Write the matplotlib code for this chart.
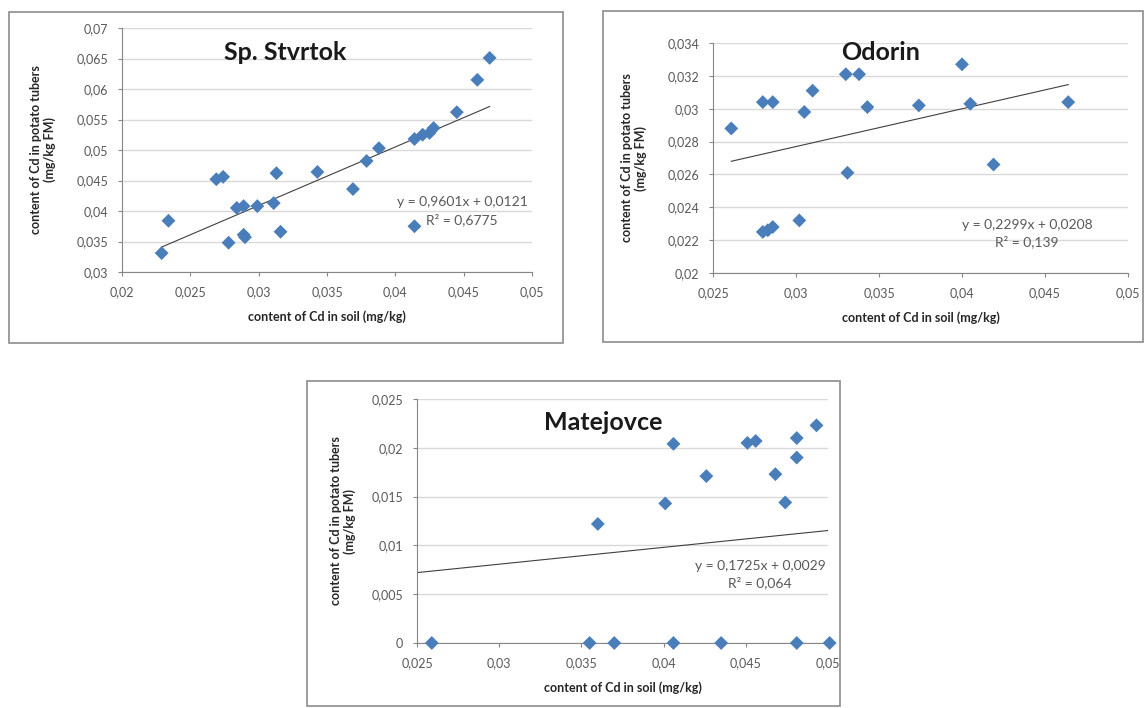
import matplotlib
matplotlib.use('Agg')
from matplotlib import pyplot as plt
from matplotlib.patches import Rectangle
from matplotlib.ticker import FuncFormatter, MultipleLocator

plt.rcParams['font.family'] = ['Lato', 'DejaVu Sans']

# Sp. Stvrtok
stvrtok_x = [0.0229, 0.0234, 0.0269, 0.0274, 0.0278, 0.0284, 0.0289, 0.0289, 0.0290, 0.0299,
             0.0311, 0.0313, 0.0316, 0.0343, 0.0369, 0.0379, 0.0388, 0.0414, 0.0414, 0.0420,
             0.0425, 0.0428, 0.0445, 0.0460, 0.0469]
stvrtok_y = [0.0331, 0.0384, 0.0452, 0.0456, 0.0348, 0.0405, 0.0408, 0.0361, 0.0357, 0.0408,
             0.0413, 0.0462, 0.0366, 0.0464, 0.0436, 0.0482, 0.0503, 0.0375, 0.0518, 0.0525,
             0.0528, 0.0536, 0.0562, 0.0615, 0.0651]

# Odorin
odorin_x = [0.0261, 0.0280, 0.0286, 0.0305, 0.0310, 0.0330, 0.0338, 0.0343, 0.0331, 0.0374,
            0.0400, 0.0405, 0.0464, 0.0419, 0.0280, 0.0283, 0.0286, 0.0302]
odorin_y = [0.0288, 0.0304, 0.0304, 0.0298, 0.0311, 0.0321, 0.0321, 0.0301, 0.0261, 0.0302,
            0.0327, 0.0303, 0.0304, 0.0266, 0.0225, 0.0226, 0.0228, 0.0232]

# Matejovce
matejovce_x = [0.0259, 0.0355, 0.0370, 0.0406, 0.0435, 0.0481, 0.0501,
               0.0360, 0.0401, 0.0406, 0.0426, 0.0451, 0.0456, 0.0468, 0.0474, 0.0481,
               0.0481, 0.0493]
matejovce_y = [0.0, 0.0, 0.0, 0.0, 0.0, 0.0, 0.0,
               0.0122, 0.0143, 0.0204, 0.0171, 0.0205, 0.0207, 0.0173, 0.0144, 0.0210,
               0.0190, 0.0223]

titles = ['Sp. Stvrtok', 'Odorin', 'Matejovce']
slopes = [0.9601, 0.2299, 0.1725]
intercepts = [0.0121, 0.0208, 0.0029]
r2_labels = ['0,6775', '0,139', '0,064']
trend_ranges = [(0.0229, 0.0469), (0.0261, 0.0464), (0.025, 0.0502)]
x_limits = [(0.02, 0.05), (0.025, 0.05), (0.025, 0.05)]
y_limits = [(0.03, 0.07), (0.02, 0.034), (0.0, 0.025)]
y_steps = [0.005, 0.002, 0.005]

xlabel = 'content of Cd in soil (mg/kg)'
ylabel = 'content of Cd in potato tubers\n(mg/kg FM)'

blue = '#4a7ebb'
grid_col = '#d9d9d9'
axis_col = '#868686'
text_col = '#595959'


def comma_fmt(v, pos):
    if abs(v) < 1e-12:
        return '0'
    return f'{v:g}'.replace('.', ',')


fig = plt.figure(figsize=(11.45, 7.08), dpi=100)
W, H = 1145.0, 708.0

# pixel boxes: frame (x0, y0, x1, y1) and plot area (x0, y0, x1, y1)
frames = [(9, 12, 563, 343), (603, 11, 1143, 342), (307, 381, 840, 706)]
areas = [(122, 28, 532, 272), (713, 43, 1128, 273), (417, 399, 828, 643)]
title_pos = [(285, 52), (881, 52), (603, 422)]
eq_pos = [(462, 202, 220), (1027, 225, 242), (760, 566, 583)]
ylabel_x = [56, 647, 356]   # right edge of the rotated label

data = [(stvrtok_x, stvrtok_y), (odorin_x, odorin_y), (matejovce_x, matejovce_y)]

for i in range(3):
    fx0, fy0, fx1, fy1 = frames[i]
    fig.patches.append(Rectangle((fx0 / W, 1 - fy1 / H), (fx1 - fx0) / W, (fy1 - fy0) / H,
                                 transform=fig.transFigure, facecolor='none',
                                 edgecolor='#8c8c8c', linewidth=1.2, zorder=5))

    ax0, ay0, ax1, ay1 = areas[i]
    ax = fig.add_axes([ax0 / W, 1 - ay1 / H, (ax1 - ax0) / W, (ay1 - ay0) / H])
    ax.set_facecolor('none')

    xs, ys = data[i]
    ax.scatter(xs, ys, marker='D', s=50, color=blue, edgecolors='none', zorder=3, clip_on=False)

    t0, t1 = trend_ranges[i]
    ax.plot([t0, t1], [slopes[i] * t0 + intercepts[i], slopes[i] * t1 + intercepts[i]],
            color='#404040', linewidth=0.8, zorder=2)

    ax.set_xlim(*x_limits[i])
    ax.set_ylim(*y_limits[i])
    ax.xaxis.set_major_locator(MultipleLocator(0.005))
    ax.yaxis.set_major_locator(MultipleLocator(y_steps[i]))
    ax.xaxis.set_major_formatter(FuncFormatter(comma_fmt))
    ax.yaxis.set_major_formatter(FuncFormatter(comma_fmt))

    ax.yaxis.grid(True, color=grid_col, linewidth=1.0)
    ax.set_axisbelow(True)
    for side in ['top', 'right']:
        ax.spines[side].set_visible(False)
    for side in ['left', 'bottom']:
        ax.spines[side].set_color(axis_col)
        ax.spines[side].set_linewidth(0.8)
    ax.tick_params(axis='both', length=3, width=0.8, color=axis_col,
                   labelsize=9, labelcolor=text_col)
    ax.tick_params(axis='y', pad=7)
    ax.tick_params(axis='x', pad=7)

    ax.set_xlabel(xlabel, fontsize=9, fontweight='bold', color='#262626')
    ax.xaxis.set_label_coords(0.5, -38.0 / (ay1 - ay0))
    ax.set_ylabel(ylabel, fontsize=9, fontweight='bold', color='#262626', linespacing=1.1)
    ax.yaxis.set_label_coords((ylabel_x[i] - ax0) / (ax1 - ax0), 0.5)

    tx, ty = title_pos[i]
    fig.text(tx / W, 1 - ty / H, titles[i], fontsize=18, fontweight='bold',
             color='#1a1a1a', ha='center', va='center')

    ex, ey1, ey2 = eq_pos[i]
    eq = f'y = {slopes[i]:.4f}x + {intercepts[i]:.4f}'.replace('.', ',')
    fig.text(ex / W, 1 - ey1 / H, eq, fontsize=10, color=text_col, ha='center', va='center')
    fig.text(ex / W, 1 - ey2 / H, f'R² = {r2_labels[i]}', fontsize=10, color=text_col,
             ha='center', va='center')

fig.savefig('out.png', dpi=100)
